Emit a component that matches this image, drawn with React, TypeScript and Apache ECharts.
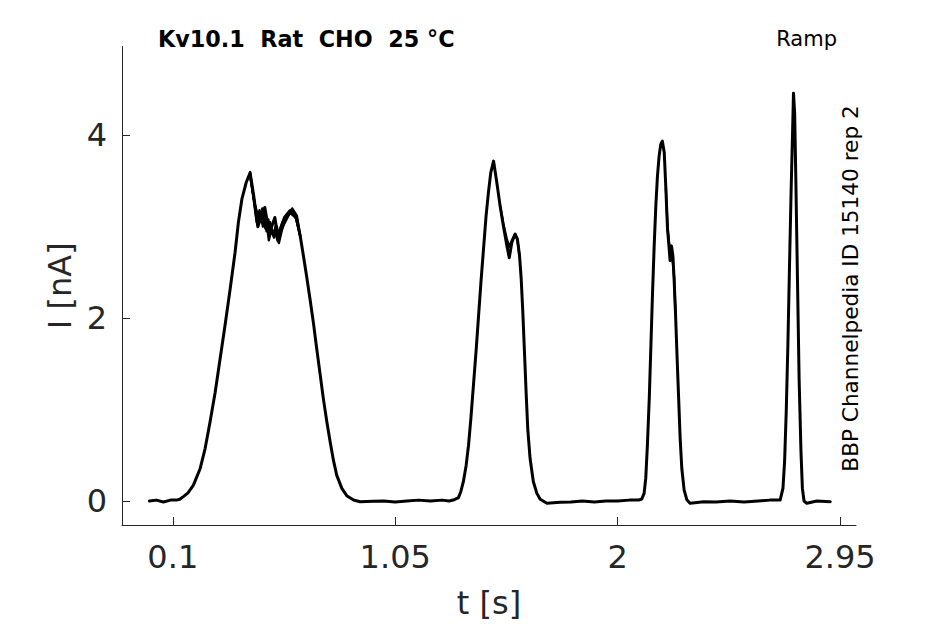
import React, { useEffect, useRef } from "react";
import * as echarts from "echarts";

// Main sweep (t [s], I [nA])
const mainT = [
  0.0, 0.03, 0.06, 0.09, 0.115, 0.13,
  0.145, 0.165, 0.188, 0.217, 0.238, 0.259, 0.281, 0.302, 0.323, 0.345, 0.366, 0.38, 0.395, 0.413, 0.43,
  0.445, 0.463, 0.478, 0.493, 0.504, 0.514, 0.525, 0.536, 0.548, 0.56, 0.57, 0.59, 0.607, 0.63,
  0.644, 0.658, 0.672, 0.686, 0.701, 0.715, 0.729, 0.743, 0.758, 0.772, 0.786, 0.8, 0.822, 0.843, 0.872, 0.9, 0.956,
  1.0, 1.05, 1.1, 1.15, 1.2, 1.25, 1.28,
  1.298, 1.32, 1.33, 1.341, 1.353, 1.363, 1.373, 1.384, 1.396, 1.406, 1.416, 1.427, 1.438, 1.448, 1.458, 1.47,
  1.484, 1.498, 1.512, 1.527, 1.537, 1.548, 1.562, 1.572, 1.581, 1.588, 1.595, 1.602, 1.609, 1.616, 1.626, 1.64, 1.655, 1.669, 1.698, 1.755,
  1.8, 1.85, 1.9, 1.95, 2.0, 2.05, 2.09,
  2.103, 2.113, 2.12, 2.127, 2.135, 2.142, 2.149, 2.156, 2.163, 2.17, 2.177, 2.184, 2.191,
  2.199, 2.206, 2.213, 2.219, 2.224, 2.23, 2.236, 2.241, 2.247, 2.253, 2.26, 2.267, 2.274, 2.284, 2.296, 2.31, 2.367,
  2.42, 2.48, 2.54, 2.6, 2.65, 2.68,
  2.694, 2.706, 2.713, 2.72, 2.727, 2.734, 2.741, 2.747, 2.751, 2.756, 2.761, 2.768, 2.775, 2.783, 2.789, 2.796, 2.808, 2.851, 2.908,
];
const mainI = [
  0.0, 0.01, -0.01, 0.01, 0.01, 0.02,
  0.048, 0.09, 0.174, 0.356, 0.574, 0.865, 1.19, 1.555, 1.92, 2.32, 2.72, 3.045, 3.3, 3.48, 3.59,
  3.35, 3.0, 3.12, 3.21, 3.05, 2.94, 3.02, 3.1, 2.9, 2.98, 3.05, 3.12, 3.17, 3.08,
  2.9, 2.68, 2.45, 2.21, 1.94, 1.66, 1.39, 1.12, 0.865, 0.647, 0.447, 0.283, 0.138, 0.059, 0.011, -0.007, -0.003,
  0.0, -0.01, 0.0, 0.01, 0.0, 0.01, 0.0,
  0.011, 0.037, 0.102, 0.211, 0.392, 0.61, 0.9, 1.264, 1.664, 2.03, 2.39, 2.754, 3.117, 3.372, 3.59, 3.717,
  3.48, 3.226, 3.008, 2.79, 2.66, 2.827, 2.918, 2.863, 2.68, 2.43, 2.06, 1.63, 1.19, 0.79, 0.465, 0.211, 0.084, 0.019, -0.025, -0.014,
  -0.01, 0.0, -0.01, 0.0, 0.0, 0.01, 0.01,
  0.022, 0.084, 0.247, 0.61, 1.12, 1.7, 2.28, 2.79, 3.226, 3.553, 3.77, 3.9, 3.935,
  3.81, 3.41, 2.97, 2.79, 2.63, 2.79, 2.68, 2.43, 2.06, 1.63, 1.155, 0.683, 0.356, 0.12, 0.011, -0.025, -0.007,
  -0.01, 0.0, -0.01, 0.0, 0.01, 0.01,
  0.011, 0.138, 0.43, 0.975, 1.7, 2.57, 3.41, 4.026, 4.46, 4.244, 3.517, 2.427, 1.337, 0.538, 0.138, 0.0, -0.025, 0.0, -0.007,
];

// Other sweeps where they visibly separate from the main one
const sweepAT = [0.43, 0.445, 0.458, 0.47, 0.485, 0.497, 0.51, 0.522, 0.532, 0.545, 0.553, 0.565, 0.58, 0.6, 0.625, 0.644];
const sweepAI = [3.57, 3.3, 3.05, 3.18, 3.0, 3.12, 2.85, 2.97, 2.88, 3.0, 2.82, 2.95, 3.08, 3.15, 3.1, 2.9];
const sweepBT = [0.43, 0.445, 0.46, 0.475, 0.49, 0.5, 0.515, 0.53, 0.54, 0.55, 0.562, 0.575, 0.6, 0.625, 0.644];
const sweepBI = [3.6, 3.32, 3.1, 3.05, 3.15, 2.95, 3.05, 2.9, 3.02, 2.88, 3.0, 3.1, 3.18, 3.1, 2.9];
const sweepET = [0.43, 0.45, 0.468, 0.482, 0.495, 0.508, 0.52, 0.535, 0.548, 0.558, 0.57, 0.59, 0.61, 0.63, 0.644];
const sweepEI = [3.55, 3.25, 3.08, 3.2, 2.98, 3.08, 2.92, 2.96, 2.84, 2.92, 3.0, 3.1, 3.2, 3.12, 2.9];
const sweepCT = [1.498, 1.512, 1.527, 1.537, 1.548, 1.562, 1.572, 1.581];
const sweepCI = [3.23, 3.03, 2.86, 2.78, 2.85, 2.92, 2.85, 2.68];
const sweepDT = [2.206, 2.213, 2.219, 2.224, 2.23, 2.236, 2.241, 2.247];
const sweepDI = [3.42, 3.0, 2.84, 2.72, 2.7, 2.6, 2.45, 2.06];

const xTicks = [0.1, 1.05, 2, 2.95];
const yTicks = [0, 2, 4];

const title = "Kv10.1  Rat  CHO  25 °C";
const protocol = "Ramp";
const source = "BBP Channelpedia ID 15140 rep 2";

const zip = (t: number[], v: number[]) => t.map((x, i) => [x, v[i]]);

export default function App() {
  const ref = useRef<HTMLDivElement>(null);
  useEffect(() => {
    if (!ref.current) return;
    const chart = echarts.init(ref.current, undefined, { renderer: "svg" });
    const font = "DejaVu Sans";
    const axisColor = "#262626";
    const line = (data: number[][], w: number) => ({
      type: "line",
      data,
      showSymbol: false,
      symbol: "none",
      lineStyle: { color: "#000", width: w, join: "round", cap: "round" },
      z: 3,
    });
    chart.setOption({
      animation: false,
      backgroundColor: "#fff",
      grid: { left: 122, right: 89, top: 46.5, bottom: 97.3, containLabel: false },
      xAxis: {
        type: "value",
        min: -0.117,
        max: 3.018,
        name: "t [s]",
        nameLocation: "middle",
        nameGap: 62,
        nameTextStyle: { fontFamily: font, fontSize: 32, color: axisColor },
        axisLine: { show: true, onZero: false, lineStyle: { color: axisColor, width: 1 } },
        axisTick: { show: true, inside: true, length: 8, customValues: xTicks, lineStyle: { color: axisColor } },
        axisLabel: { customValues: xTicks, fontFamily: font, fontSize: 32, color: axisColor, margin: 16 },
        splitLine: { show: false },
      },
      yAxis: {
        type: "value",
        min: -0.262,
        max: 4.97,
        name: "I [nA]",
        nameLocation: "middle",
        nameGap: 46,
        nameTextStyle: { fontFamily: font, fontSize: 32, color: axisColor },
        axisLine: { show: true, onZero: false, lineStyle: { color: axisColor, width: 1 } },
        axisTick: { show: true, inside: true, length: 8, customValues: yTicks, lineStyle: { color: axisColor } },
        axisLabel: { customValues: yTicks, fontFamily: font, fontSize: 32, color: axisColor, margin: 15 },
        splitLine: { show: false },
      },
      graphic: [
        {
          type: "text",
          left: 158,
          top: 28,
          style: { text: title, fontFamily: font, fontSize: 22.3, fontWeight: "bold", fill: "#000" },
        },
        {
          type: "text",
          x: 837,
          y: 39,
          style: { text: protocol, fontFamily: font, fontSize: 21, fill: "#000", align: "right", verticalAlign: "middle" },
        },
        {
          type: "text",
          x: 850,
          y: 288.5,
          rotation: Math.PI / 2,
          style: { text: source, fontFamily: font, fontSize: 21.6, fill: "#000", align: "center", verticalAlign: "middle" },
        },
      ],
      series: [
        line(zip(mainT, mainI), 3),
        line(zip(sweepAT, sweepAI), 2.3),
        line(zip(sweepBT, sweepBI), 2.3),
        line(zip(sweepET, sweepEI), 2.3),
        line(zip(sweepCT, sweepCI), 2.3),
        line(zip(sweepDT, sweepDI), 2.3),
      ],
    });
    return () => chart.dispose();
  }, []);
  return <div ref={ref} style={{ position: "fixed", left: 0, top: 0, width: 945, height: 624 }} />;
}
